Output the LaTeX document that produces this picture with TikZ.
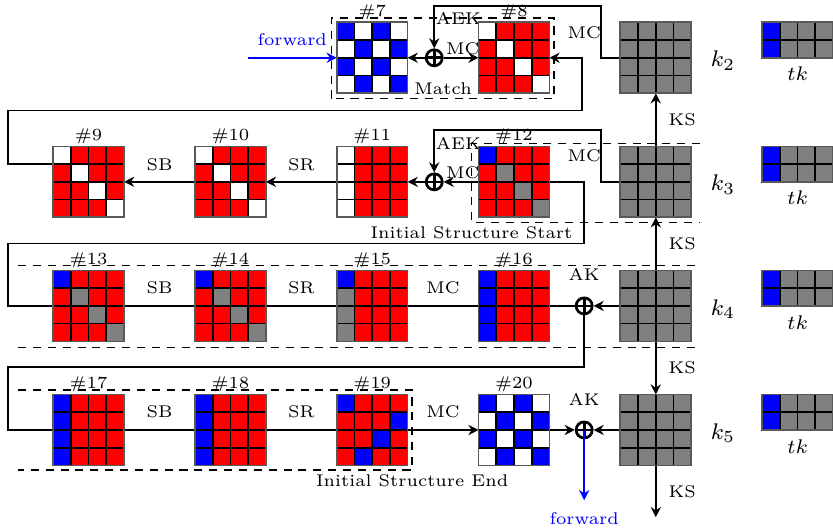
\documentclass[tikz,border=0pt]{standalone}
\usetikzlibrary{arrows.meta}

\definecolor{B}{rgb}{0,0,1}
\definecolor{R}{rgb}{1,0,0}
\definecolor{W}{rgb}{1,1,1}
\definecolor{G}{rgb}{0.5,0.5,0.5}

\tikzset{
  stnode/.style={minimum size=0.88cm, inner sep=0pt, outer sep=0pt},
  tknode/.style={minimum width=0.88cm, minimum height=0.44cm, inner sep=0pt, outer sep=0pt},
  lbl/.style={font=\fontsize{6}{7}\selectfont, inner sep=0.6pt},
  klbl/.style={font=\footnotesize, inner sep=0.6pt},
  xorop/.style={circle, draw, line width=0.95pt, minimum size=0.2cm, inner sep=0pt,
    path picture={\draw[line width=0.95pt] (path picture bounding box.north) -- (path picture bounding box.south)
      (path picture bounding box.west) -- (path picture bounding box.east);}},
  dsh/.style={dash pattern=on 2.85pt off 2.4pt},
  fwd/.style={blue, ->},
}

% fill the 4-column cells of a state node, row by row
\newcommand{\fillcells}[2]{%
  \foreach \c [count=\i from 0] in {#2} {
    \pgfmathtruncatemacro\cc{mod(\i,4)}
    \pgfmathtruncatemacro\rr{floor(\i/4)}
    \filldraw[fill=\c, draw=black] ([shift={(0.5*\cc,-0.5*\rr)}]#1.north west) rectangle ++(0.5,-0.5);
  }
  \draw[gray!70!black] (#1.south west) rectangle (#1.north east);
}

\begin{document}
\begin{tikzpicture}[x=0.44cm, y=0.44cm, line width=0.6pt, >={Stealth[length=3.6pt,width=3.6pt,inset=1.2pt]}]
\useasboundingbox (0,0) rectangle (23.5,14.98);

% states and keys
\foreach \n/\x/\y in {7/10.5/13.35, 8/14.5/13.35, 9/2.5/9.85, 10/6.5/9.85, 11/10.5/9.85, 12/14.5/9.85,
  13/2.5/6.35, 14/6.5/6.35, 15/10.5/6.35, 16/14.5/6.35, 17/2.5/2.85, 18/6.5/2.85, 19/10.5/2.85, 20/14.5/2.85}
  \node[stnode, label={[lbl]above:\#\n}] (s\n) at (\x,\y) {};
\foreach \n/\y in {2/13.35, 3/9.85, 4/6.35, 5/2.85} {
  \node[stnode] (k\n) at (18.5,\y) {};
  \node[klbl] (kl\n) at (20.4,\y-0.08) {$k_{\n}$};
  \node[tknode, label={[lbl, font=\scriptsize, label distance=2.4pt]below:$tk$}] (tk\n) at (22.5,\y+0.5) {};
}
\node[xorop] (x1) at (12.25,13.35) {};
\node[xorop] (x2) at (12.25,9.85) {};
\node[xorop] (x3) at (16.48,6.35) {};
\node[xorop] (x4) at (16.48,2.85) {};

% turning points
\coordinate (fwdin) at (6.99,13.35);
\coordinate (aek1) at (16.96,14.82);
\coordinate (aek2) at (16.96,11.32);
\coordinate (w1) at (0.23,11.86);
\coordinate (e1) at (16.42,11.86);
\coordinate (w2) at (0.23,8.11);
\coordinate (e2) at (16.48,8.11);
\coordinate (w3) at (0.23,4.62);
\coordinate (fwdout) at (16.48,0.87);
\coordinate (ksout) at (18.5,0.39);

% match part
\draw[fwd] (fwdin) -- (s7.west) node[lbl, midway, above=3.4pt] (fwdlbl1) {forward};
\draw[->] (x1.west) -- (s7.east);
\draw[->] (x1.east) -- (s8.west);
\draw[->] (k2.west) -| (aek1) -| (x1.north);
\node[lbl, anchor=south west] (mc1) at (x1.east) {MC};
\node[lbl] (aeklbl1) at (12.93,14.45) {AEK};
\draw[->] ([shift={(0,-0.5)}]s9.north west) -| (w1) -- (e1) |- (s8.east);
\node[lbl] (mcb1) at (16.48,14.06) {MC};

% backward
\draw[->] (s10.west) -- (s9.east) node[lbl, midway, above=3pt] (sb2) {SB};
\draw[->] (s11.west) -- (s10.east) node[lbl, midway, above=3pt] (sr2) {SR};
\draw[->] (x2.west) -- (s11.east);
\draw[->] (k3.west) -| (aek2) -| (x2.north);
\node[lbl, anchor=south west] (mc2) at (x2.east) {MC};
\node[lbl] (aeklbl2) at (12.93,10.94) {AEK};
\draw[->] (x3.west) -| (w2) -- (e2) |- (x2.east);
\node[lbl] (mcb2) at (16.48,10.59) {MC};

% forward
\path (s13.east) -- (s14.west) node[lbl, midway, above=3.4pt] (sb3) {SB};
\path (s14.east) -- (s15.west) node[lbl, midway, above=3.4pt] (sr3) {SR};
\path (s15.east) -- (s16.west) node[lbl, midway, above=3.4pt] (mc3) {MC};
\draw[->] (k4.west) -- (x3.east);
\node[lbl, above=4.6pt] (ak3) at (x3.north) {AK};
\draw[->] (x3.south) |- (w3) |- (s20.west);
\path (s17.east) -- (s18.west) node[lbl, midway, above=3.4pt] (sb4) {SB};
\path (s18.east) -- (s19.west) node[lbl, midway, above=3.4pt] (sr4) {SR};
\path (s19.east) -- (s20.west) node[lbl, midway, above=3.4pt] (mc4) {MC};
\draw[->] (s20.east) -- (x4.west);
\draw[->] (k5.west) -- (x4.east);
\node[lbl, above=4.6pt] (ak4) at (x4.north) {AK};
\draw[fwd] (x4.center) -- (fwdout);
\node[lbl, blue, below=3.4pt] (fwdlbl2) at (fwdout) {forward};

% key schedule
\draw[->] (k3.north) -- (k2.south) node[lbl, midway, right=3.6pt] (ks1) {KS};
\draw[->] (k4.north) -- (k3.south) node[lbl, midway, right=3.6pt] (ks2) {KS};
\draw[->] (k4.south) -- (k5.north) node[lbl, midway, right=3.6pt] (ks3) {KS};
\draw[->] (k5.south) -- (ksout) node[lbl, midway, right=3.6pt] (ks4) {KS};

% dashed frames
\draw[dsh] (9.35,12.2) rectangle (15.63,14.48);
\node[lbl, above=0.6pt] (match) at (12.5,12.2) {Match};
\draw[dsh] (19.75,10.93) -- (13.3,10.93) -- (13.3,8.7) -- (19.75,8.7);
\node[lbl, below=0.6pt] (isstart) at (13.3,8.7) {Initial Structure Start};
\draw[dsh] (0.51,7.49) -- (19.75,7.49);
\draw[dsh] (0.51,5.18) -- (19.75,5.18);
\draw[dsh] (0.51,3.97) -- (11.63,3.97) -- (11.63,1.72) -- (0.51,1.72);
\node[lbl, below=0.6pt] (isend) at (11.63,1.72) {Initial Structure End};

% cells
\fillcells{s7}{B,W,B,W, W,B,W,B, B,W,B,W, W,B,W,B}
\foreach \n in {8,9,10} {\fillcells{s\n}{W,R,R,R, R,W,R,R, R,R,W,R, R,R,R,W}}
\fillcells{s11}{W,R,R,R, W,R,R,R, W,R,R,R, W,R,R,R}
\foreach \n in {12,13,14} {\fillcells{s\n}{B,R,R,R, R,G,R,R, R,R,G,R, R,R,R,G}}
\fillcells{s15}{B,R,R,R, G,R,R,R, G,R,R,R, G,R,R,R}
\foreach \n in {16,17,18} {\fillcells{s\n}{B,R,R,R, B,R,R,R, B,R,R,R, B,R,R,R}}
\fillcells{s19}{B,R,R,R, R,R,R,B, R,R,B,R, R,B,R,R}
\fillcells{s20}{B,W,B,W, W,B,W,B, B,W,B,W, W,B,W,B}
\foreach \n in {2,3,4,5} {
  \fillcells{k\n}{G,G,G,G, G,G,G,G, G,G,G,G, G,G,G,G}
  \fillcells{tk\n}{B,G,G,G, B,G,G,G}
}
\end{tikzpicture}
\end{document}
